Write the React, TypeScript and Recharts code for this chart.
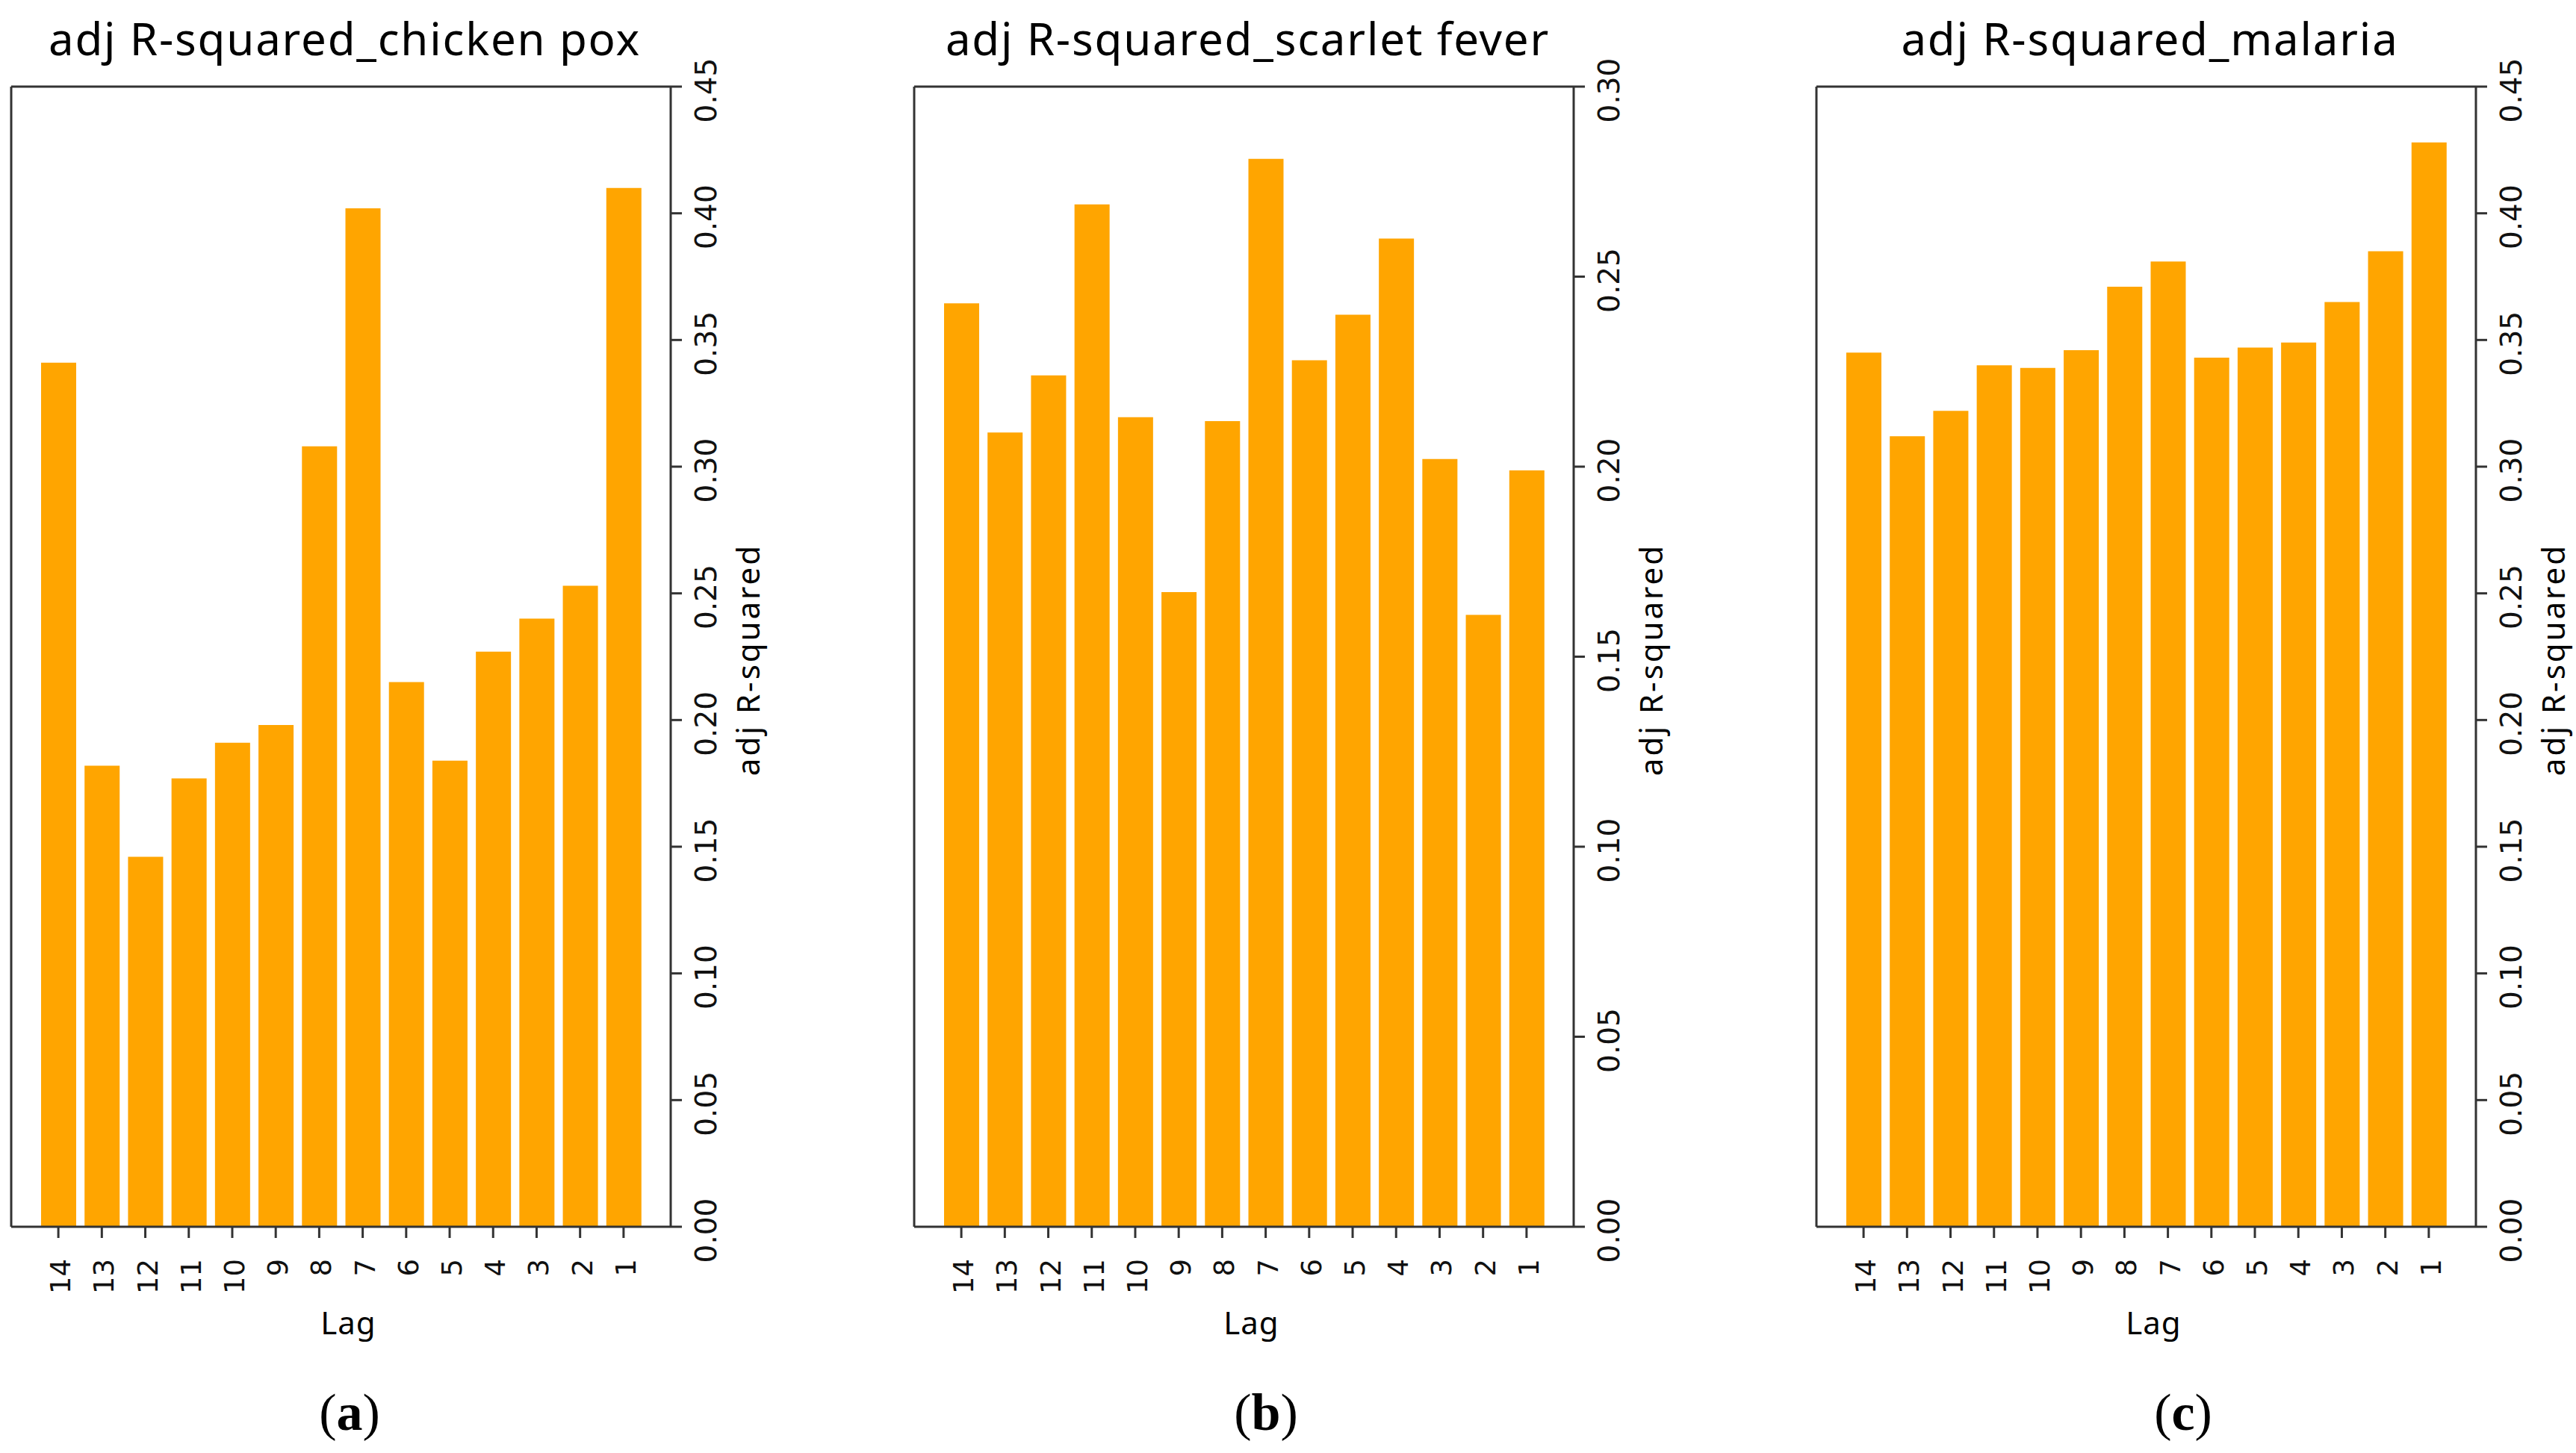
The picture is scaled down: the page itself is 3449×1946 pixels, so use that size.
import { BarChart, Bar, XAxis, YAxis } from "recharts";

// lag order as plotted, left to right
const lags = ["14", "13", "12", "11", "10", "9", "8", "7", "6", "5", "4", "3", "2", "1"];

const chickenPox = [0.341, 0.182, 0.146, 0.177, 0.191, 0.198, 0.308, 0.402, 0.215, 0.184, 0.227, 0.24, 0.253, 0.41];
const scarletFever = [0.243, 0.209, 0.224, 0.269, 0.213, 0.167, 0.212, 0.281, 0.228, 0.24, 0.26, 0.202, 0.161, 0.199];
const malaria = [0.345, 0.312, 0.322, 0.34, 0.339, 0.346, 0.371, 0.381, 0.343, 0.347, 0.349, 0.365, 0.385, 0.428];

const ticksWide = [0, 0.05, 0.1, 0.15, 0.2, 0.25, 0.3, 0.35, 0.4, 0.45];
const ticksNarrow = [0, 0.05, 0.1, 0.15, 0.2, 0.25, 0.3];

const titles = ["adj R-squared_chicken pox", "adj R-squared_scarlet fever", "adj R-squared_malaria"];
const captions = ["a", "b", "c"];

const ORANGE = "#FFA500";
const SPINE = "#333333";
const CHART_W = 1150;
const CHART_H = 1946;
const FRAME_W = 883;
const Y_AXIS_W = 180;
const X_AXIS_H = 150;
const TOP = 116;
const BOTTOM = 1643;
const PANEL_X = [0, 1208.5, 2417];
const CAPTION_X = [468, 1695, 2923];

const spine = { stroke: SPINE, strokeWidth: 3 };

function LagTick({ x, y, payload }: any) {
  const tx = x + 16;
  const ty = y + 28;
  return (
    <text
      x={tx}
      y={ty}
      transform={`rotate(-90, ${tx}, ${ty})`}
      textAnchor="end"
      fontFamily="DejaVu Sans"
      fontSize={37}
      fill="#111"
    >
      {payload.value}
    </text>
  );
}

function ValueTick({ x, y, payload }: any) {
  const tx = x + 46;
  const ty = y + 5;
  return (
    <text
      x={tx}
      y={ty}
      transform={`rotate(-90, ${tx}, ${ty})`}
      textAnchor="middle"
      fontFamily="DejaVu Sans"
      fontSize={39}
      fill="#111"
    >
      {Number(payload.value).toFixed(2)}
    </text>
  );
}

function TitleLabel({ viewBox, text }: any) {
  const cx = viewBox.x + viewBox.width / 2 + 5;
  return (
    <text x={cx} y={TOP - 42} textAnchor="middle" fontFamily="Noto Sans" fontSize={60} letterSpacing={1.8} fill="#000">
      {text}
    </text>
  );
}

function LagLabel({ viewBox }: any) {
  const cx = viewBox.x + viewBox.width / 2 + 10;
  return (
    <text x={cx} y={viewBox.y + 144} textAnchor="middle" fontFamily="Noto Sans" fontSize={42} letterSpacing={1} fill="#000">
      Lag
    </text>
  );
}

function RsqLabel({ viewBox }: any) {
  const tx = viewBox.x + 119;
  const ty = viewBox.y + viewBox.height / 2 + 4;
  return (
    <text
      x={tx}
      y={ty}
      transform={`rotate(-90, ${tx}, ${ty})`}
      textAnchor="middle"
      fontFamily="Noto Sans"
      fontSize={42}
      letterSpacing={3}
      fill="#000"
    >
      adj R-squared
    </text>
  );
}

function Panel({ values, ticks, title }: { values: number[]; ticks: number[]; title: string }) {
  const rows = lags.map((lag, i) => ({ lag, v: values[i] }));
  const yMax = ticks[ticks.length - 1];
  return (
    <BarChart
      width={CHART_W}
      height={CHART_H}
      data={rows}
      margin={{
        top: TOP - 1,
        left: 14,
        right: CHART_W - 15 - FRAME_W - Y_AXIS_W,
        bottom: CHART_H - BOTTOM - X_AXIS_H,
      }}
    >
      <XAxis
        dataKey="lag"
        height={X_AXIS_H}
        padding={{ left: 34, right: 34 }}
        axisLine={spine}
        tickLine={spine}
        tickSize={15}
        tickMargin={0}
        interval={0}
        tick={<LagTick />}
        label={<LagLabel />}
      />
      <XAxis
        xAxisId="top"
        orientation="top"
        dataKey="lag"
        height={1}
        padding={{ left: 34, right: 34 }}
        axisLine={spine}
        tickLine={false}
        tick={false}
        label={<TitleLabel text={title} />}
      />
      <YAxis
        yAxisId="r"
        orientation="right"
        type="number"
        width={Y_AXIS_W}
        domain={[0, yMax]}
        ticks={ticks}
        allowDataOverflow
        axisLine={spine}
        tickLine={spine}
        tickSize={15}
        tickMargin={0}
        interval={0}
        tick={<ValueTick />}
        label={<RsqLabel />}
      />
      <YAxis
        yAxisId="left"
        orientation="left"
        type="number"
        width={1}
        domain={[0, yMax]}
        axisLine={spine}
        tickLine={false}
        tick={false}
      />
      <Bar dataKey="v" yAxisId="r" fill={ORANGE} barSize={47} isAnimationActive={false} />
    </BarChart>
  );
}

const panelValues = [chickenPox, scarletFever, malaria];
const panelTicks = [ticksWide, ticksNarrow, ticksWide];

export default function App() {
  return (
    <div style={{ position: "absolute", left: 0, top: 0, width: 3449, height: 1946, background: "#fff", overflow: "hidden" }}>
      {panelValues.map((values, i) => (
        <div key={titles[i]} style={{ position: "absolute", left: PANEL_X[i], top: 0 }}>
          <Panel values={values} ticks={panelTicks[i]} title={titles[i]} />
        </div>
      ))}
      <svg width={3449} height={1946} style={{ position: "absolute", left: 0, top: 0, pointerEvents: "none" }}>
        {captions.map((c, i) => (
          <text key={c} x={CAPTION_X[i]} y={1915} textAnchor="middle" fontFamily="Liberation Serif" fontSize={70} fill="#000">
            (<tspan fontWeight="bold">{c}</tspan>)
          </text>
        ))}
      </svg>
    </div>
  );
}
